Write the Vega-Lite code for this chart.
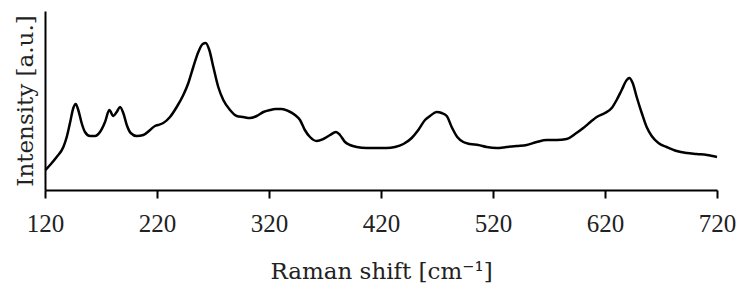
{
  "$schema": "https://vega.github.io/schema/vega-lite/v6.json",
  "autosize": "none",
  "width": 672,
  "height": 179,
  "padding": {"left": 45, "top": 11, "right": 23, "bottom": 96},
  "background": "white",
  "config": {
    "view": {"stroke": null},
    "font": "Liberation Serif",
    "axis": {"grid": false, "domainColor": "black", "domainWidth": 2, "tickColor": "black", "tickWidth": 2, "labelColor": "#222", "titleColor": "#222", "labelFont": "Liberation Serif", "titleFont": "DejaVu Serif", "titleFontWeight": "normal"}
  },
  "data": {"values": [
    {"w": 120.5, "v": 20}, {"w": 124.5, "v": 25}, {"w": 130.4, "v": 33}, {"w": 136.4, "v": 43},
    {"w": 139.4, "v": 53}, {"w": 142.3, "v": 67}, {"w": 145.3, "v": 82}, {"w": 147.4, "v": 86},
    {"w": 149.7, "v": 80}, {"w": 152.7, "v": 67}, {"w": 155.7, "v": 58}, {"w": 160.2, "v": 54},
    {"w": 164.6, "v": 54}, {"w": 169.1, "v": 58}, {"w": 173.6, "v": 68}, {"w": 177.4, "v": 80},
    {"w": 181, "v": 74}, {"w": 184, "v": 78}, {"w": 187, "v": 83}, {"w": 189.9, "v": 77},
    {"w": 193, "v": 65}, {"w": 196.5, "v": 57}, {"w": 201.9, "v": 54}, {"w": 207.8, "v": 55},
    {"w": 213.8, "v": 60}, {"w": 218.2, "v": 64}, {"w": 221, "v": 65}, {"w": 225.6, "v": 67},
    {"w": 231.6, "v": 73}, {"w": 237.6, "v": 83}, {"w": 243.5, "v": 95}, {"w": 248, "v": 107},
    {"w": 252.4, "v": 123}, {"w": 256.9, "v": 138}, {"w": 260.8, "v": 146}, {"w": 263.5, "v": 147},
    {"w": 266.7, "v": 140}, {"w": 270.3, "v": 123}, {"w": 274.7, "v": 103}, {"w": 279.2, "v": 90},
    {"w": 285.2, "v": 80}, {"w": 291.2, "v": 74}, {"w": 297, "v": 73}, {"w": 303, "v": 72},
    {"w": 309, "v": 74}, {"w": 315, "v": 78}, {"w": 321, "v": 80}, {"w": 325.4, "v": 81},
    {"w": 331.3, "v": 81}, {"w": 337.2, "v": 79}, {"w": 343.2, "v": 75}, {"w": 347.7, "v": 70},
    {"w": 352, "v": 60}, {"w": 356.6, "v": 53}, {"w": 362.6, "v": 49}, {"w": 368.5, "v": 51},
    {"w": 374.5, "v": 55}, {"w": 379.8, "v": 58}, {"w": 383.4, "v": 55}, {"w": 387.9, "v": 48},
    {"w": 392.3, "v": 45}, {"w": 398.3, "v": 43}, {"w": 407.2, "v": 42}, {"w": 417.6, "v": 42},
    {"w": 425, "v": 42}, {"w": 432.5, "v": 43}, {"w": 440, "v": 46}, {"w": 447.4, "v": 52},
    {"w": 453.3, "v": 60}, {"w": 459.3, "v": 70}, {"w": 463.8, "v": 74}, {"w": 469.7, "v": 78},
    {"w": 474.2, "v": 77}, {"w": 478.7, "v": 74}, {"w": 483.1, "v": 63}, {"w": 488.1, "v": 53},
    {"w": 493.5, "v": 48}, {"w": 499.5, "v": 46}, {"w": 506.9, "v": 45}, {"w": 514.4, "v": 43},
    {"w": 523.3, "v": 42}, {"w": 532.2, "v": 43}, {"w": 541.2, "v": 44}, {"w": 550.1, "v": 45},
    {"w": 559, "v": 48}, {"w": 568, "v": 50}, {"w": 576.9, "v": 50}, {"w": 585.8, "v": 51},
    {"w": 593.2, "v": 56}, {"w": 600.6, "v": 62}, {"w": 607, "v": 68}, {"w": 612.6, "v": 73},
    {"w": 620, "v": 77}, {"w": 626, "v": 82}, {"w": 630.4, "v": 90}, {"w": 634.9, "v": 100},
    {"w": 639.4, "v": 110}, {"w": 641.7, "v": 112}, {"w": 644.7, "v": 107}, {"w": 648.3, "v": 93},
    {"w": 652.8, "v": 77}, {"w": 657.2, "v": 63}, {"w": 661.7, "v": 54}, {"w": 667.7, "v": 47},
    {"w": 675.1, "v": 43}, {"w": 684, "v": 39}, {"w": 693, "v": 37}, {"w": 702, "v": 36},
    {"w": 711, "v": 35}, {"w": 720, "v": 33}
  ]},
  "mark": {"type": "line", "color": "black", "strokeWidth": 2.5, "interpolate": "monotone"},
  "encoding": {
    "x": {
      "field": "w", "type": "quantitative",
      "scale": {"domain": [120, 720], "nice": false, "zero": false},
      "axis": {"values": [120, 220, 320, 420, 520, 620, 720], "title": "Raman shift [cm⁻¹]", "labelFontSize": 25, "titleFontSize": 23, "tickSize": 8, "labelPadding": 13, "titlePadding": 24, "labelFlush": false}
    },
    "y": {
      "field": "v", "type": "quantitative",
      "scale": {"domain": [0, 179], "nice": false},
      "axis": {"title": "Intensity [a.u.]", "labels": false, "ticks": false, "titleFontSize": 23, "titlePadding": 8}
    }
  }
}
